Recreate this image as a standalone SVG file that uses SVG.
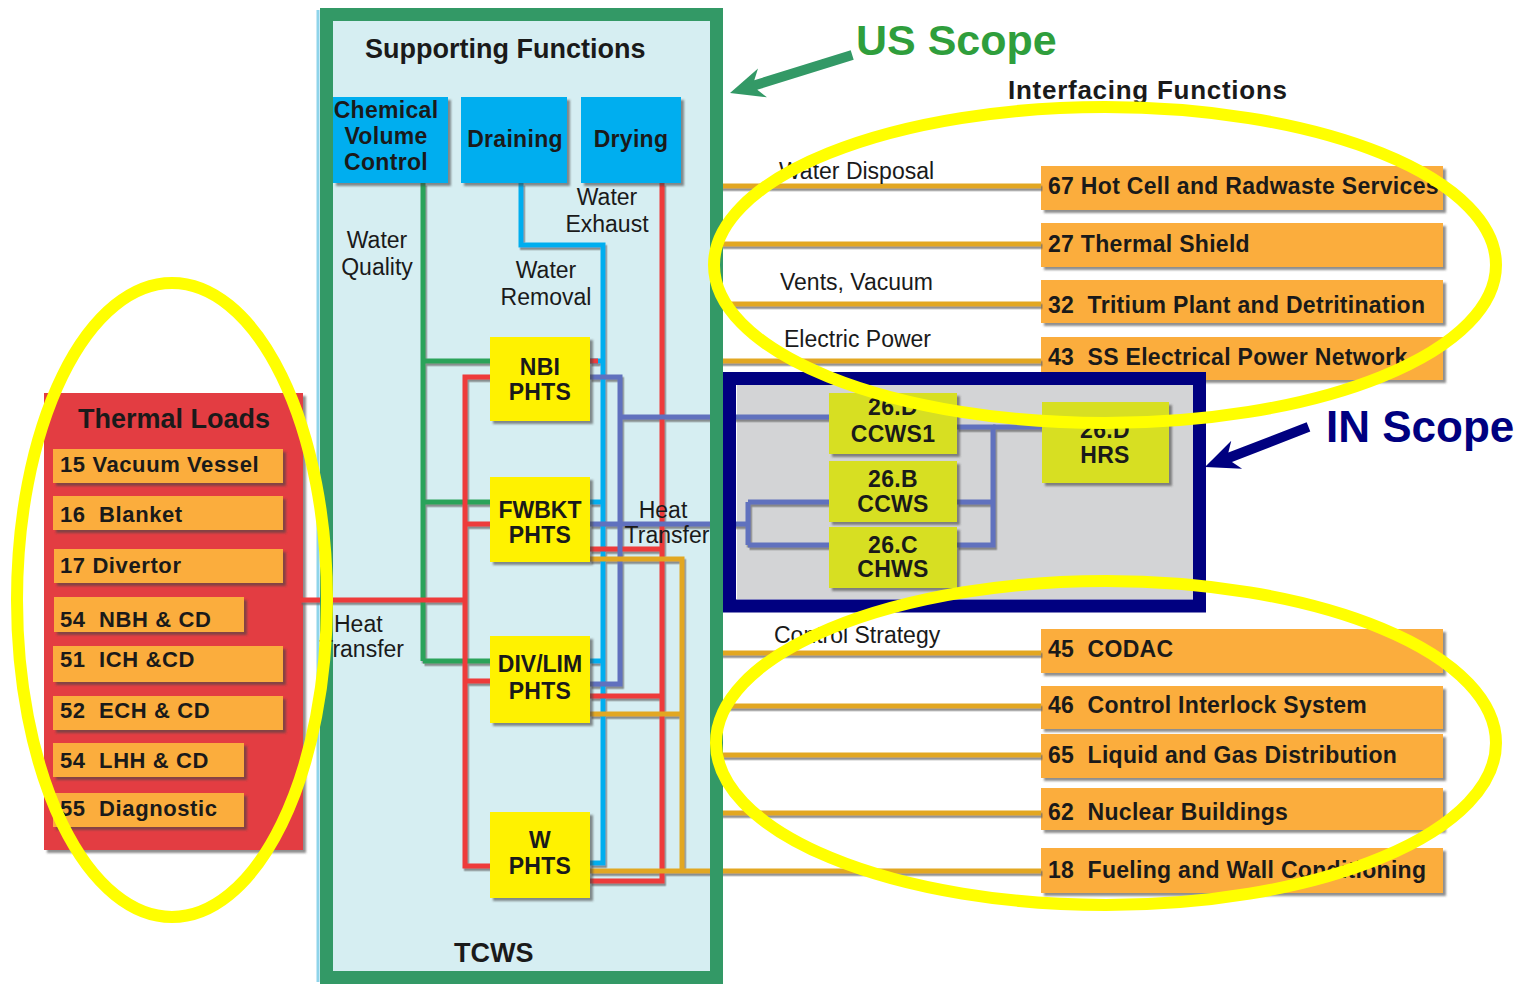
<svg xmlns="http://www.w3.org/2000/svg" width="1524" height="984" viewBox="0 0 1524 984">
<style>
text{font-family:"Liberation Sans",Arial,sans-serif;fill:#1a1a1a;white-space:pre}
.b{font-weight:bold}
.t22{font-size:22px;letter-spacing:0.6px}
.t23{font-size:23px;letter-spacing:0.3px}
.lbl{font-size:23px}
.c{text-anchor:middle}
.or{fill:#fbad3d}
.ye{fill:#fff200}
.bl{fill:#00aeef}
.yg{fill:#d7df23}
.ln{fill:none;stroke-width:5;stroke-linejoin:miter;stroke-linecap:butt}
.ell{fill:none;stroke:#ffff00;stroke-width:12}
</style>
<defs>
<filter id="bs" x="-10%" y="-10%" width="130%" height="140%">
<feDropShadow dx="3" dy="3" stdDeviation="0.8" flood-color="#444" flood-opacity="0.6"/>
</filter>
<filter id="ls" x="-5%" y="-5%" width="110%" height="110%">
<feDropShadow dx="1.5" dy="2.5" stdDeviation="0.6" flood-color="#666" flood-opacity="0.7"/>
</filter>
</defs>
<rect width="1524" height="984" fill="#ffffff"/>

<!-- Thermal loads -->
<g id="thermal-loads">
<rect x="44" y="393" width="259" height="457" fill="#e33e42" filter="url(#bs)"/>
<text class="b" x="78" y="428" font-size="27">Thermal Loads</text>
</g>
<g id="tl-15"><rect class="or" x="53" y="449" width="230" height="34" filter="url(#bs)"/><text class="b t22" x="60" y="472">15 Vacuum Vessel</text></g>
<g id="tl-16"><rect class="or" x="53" y="496" width="230" height="34" filter="url(#bs)"/><text class="b t22" x="60" y="522">16  Blanket</text></g>
<g id="tl-17"><rect class="or" x="54" y="549" width="229" height="34" filter="url(#bs)"/><text class="b t22" x="60" y="573">17 Divertor</text></g>
<g id="tl-54a"><rect class="or" x="54" y="597" width="190" height="35" filter="url(#bs)"/><text class="b t22" x="60" y="627">54  NBH &amp; CD</text></g>
<g id="tl-51"><rect class="or" x="53" y="646" width="230" height="36" filter="url(#bs)"/><text class="b t22" x="60" y="667">51  ICH &amp;CD</text></g>
<g id="tl-52"><rect class="or" x="53" y="696" width="230" height="34" filter="url(#bs)"/><text class="b t22" x="60" y="718">52  ECH &amp; CD</text></g>
<g id="tl-54b"><rect class="or" x="53" y="743" width="191" height="34" filter="url(#bs)"/><text class="b t22" x="60" y="768">54  LHH &amp; CD</text></g>
<g id="tl-55"><rect class="or" x="53" y="793" width="191" height="34" filter="url(#bs)"/><text class="b t22" x="60" y="816">55  Diagnostic</text></g>

<!-- Interfacing functions -->
<text class="b" x="1008" y="99" font-size="26" textLength="279">Interfacing Functions</text>
<g id="if-67"><rect class="or" x="1041" y="166" width="402" height="44" filter="url(#bs)"/><text class="b t23" x="1048" y="194">67 Hot Cell and Radwaste Services</text></g>
<g id="if-27"><rect class="or" x="1041" y="223" width="402" height="44" filter="url(#bs)"/><text class="b t23" x="1048" y="252">27 Thermal Shield</text></g>
<g id="if-32"><rect class="or" x="1041" y="280" width="402" height="43" filter="url(#bs)"/><text class="b t23" x="1048" y="313">32  Tritium Plant and Detritination</text></g>
<g id="if-43"><rect class="or" x="1041" y="337" width="402" height="43" filter="url(#bs)"/><text class="b t23" x="1048" y="365">43  SS Electrical Power Network</text></g>
<g id="if-45"><rect class="or" x="1041" y="629" width="402" height="44" filter="url(#bs)"/><text class="b t23" x="1048" y="657">45  CODAC</text></g>
<g id="if-46"><rect class="or" x="1041" y="686" width="402" height="43" filter="url(#bs)"/><text class="b t23" x="1048" y="713">46  Control Interlock System</text></g>
<g id="if-65"><rect class="or" x="1041" y="734" width="402" height="44" filter="url(#bs)"/><text class="b t23" x="1048" y="763">65  Liquid and Gas Distribution</text></g>
<g id="if-62"><rect class="or" x="1041" y="788" width="402" height="42" filter="url(#bs)"/><text class="b t23" x="1048" y="820">62  Nuclear Buildings</text></g>
<g id="if-18"><rect class="or" x="1041" y="848" width="402" height="45" filter="url(#bs)"/><text class="b t23" x="1048" y="878">18  Fueling and Wall Conditioning</text></g>

<!-- container backgrounds -->
<line x1="318" y1="10" x2="318" y2="982" stroke="#8fd4ea" stroke-width="3"/>
<rect id="tcws-bg" x="333" y="21" width="377" height="954" fill="#d6eef2"/>
<rect id="scope-bg" x="737" y="385" width="456" height="214" fill="#d3d4d6"/>

<!-- connectors -->
<g id="connectors" filter="url(#ls)">
<path class="ln" stroke="#2aa35a" d="M423,183 V661 M423,361 H490 M423,502 H490 M423,661 H490"/>
<path class="ln" stroke="#00aeef" d="M521,183 V245 H603 V863 H590 M590,361 H603 M590,502 H603 M590,661 H603"/>
<path class="ln" stroke="#ee3b3b" d="M490,377 H465 V866 H490 M465,524 H490 M465,681 H490 M300,600 H465 M662,183 V881 H590 M590,549 H662 M590,696 H662 M590,361 H598"/>
<path class="ln" stroke="#6171be" d="M590,377 H620 V684 H590 M620,417 H829 M590,524 H748 M748,502 V545 M748,502 H829 M748,545 H829 M957,427 H993 V545 H957 M957,502 H993"/>
<path class="ln" stroke="#6171be" stroke-width="2.5" d="M993,427 H1042"/>
<path class="ln" stroke="#e2a722" d="M590,559 H682 V871 M590,714 H682 M590,871 H1041 M716,186 H1041 M716,244 H1041 M716,304 H1041 M716,361 H1041 M716,653 H1041 M716,706 H1041 M716,755 H1041 M716,813 H1041"/>
</g>

<!-- container frames -->
<g id="tcws">
<rect x="326.5" y="14.5" width="390" height="963" fill="none" stroke="#339966" stroke-width="13"/>
<text class="b" x="365" y="58" font-size="27">Supporting Functions</text>
<text class="b" x="454" y="962" font-size="27">TCWS</text>
</g>
<g id="in-scope-box">
<rect x="729.5" y="378.5" width="470" height="227.5" fill="none" stroke="#000080" stroke-width="13"/>
</g>

<!-- supporting function nodes -->
<g id="cvc"><rect class="bl" x="333" y="97" width="115" height="86" filter="url(#bs)"/>
<text class="b t23 c" x="386" y="118">Chemical</text><text class="b t23 c" x="386" y="144">Volume</text><text class="b t23 c" x="386" y="170">Control</text></g>
<g id="draining"><rect class="bl" x="461" y="97" width="106" height="86" filter="url(#bs)"/><text class="b t23 c" x="515" y="147">Draining</text></g>
<g id="drying"><rect class="bl" x="581" y="97" width="100" height="86" filter="url(#bs)"/><text class="b t23 c" x="631" y="147">Drying</text></g>

<g id="nbi-phts"><rect class="ye" x="490" y="337" width="100" height="84" filter="url(#bs)"/><text class="b t23 c" x="540" y="375">NBI</text><text class="b t23 c" x="540" y="400">PHTS</text></g>
<g id="fwbkt-phts"><rect class="ye" x="490" y="477" width="100" height="85" filter="url(#bs)"/><text class="b c" font-size="23" x="540" y="518">FWBKT</text><text class="b t23 c" x="540" y="543">PHTS</text></g>
<g id="divlim-phts"><rect class="ye" x="490" y="636" width="100" height="87" filter="url(#bs)"/><text class="b c" font-size="23" x="540" y="672">DIV/LIM</text><text class="b t23 c" x="540" y="699">PHTS</text></g>
<g id="w-phts"><rect class="ye" x="490" y="812" width="100" height="86" filter="url(#bs)"/><text class="b t23 c" x="540" y="848">W</text><text class="b t23 c" x="540" y="874">PHTS</text></g>

<!-- in-scope nodes -->
<g id="ccws1"><rect class="yg" x="829" y="393" width="128" height="61" filter="url(#bs)"/><text class="b t23 c" x="893" y="415">26.D</text><text class="b t23 c" x="893" y="442">CCWS1</text></g>
<g id="ccws"><rect class="yg" x="829" y="461" width="128" height="61" filter="url(#bs)"/><text class="b t23 c" x="893" y="487">26.B</text><text class="b t23 c" x="893" y="512">CCWS</text></g>
<g id="chws"><rect class="yg" x="829" y="527" width="128" height="61" filter="url(#bs)"/><text class="b t23 c" x="893" y="553">26.C</text><text class="b t23 c" x="893" y="577">CHWS</text></g>
<g id="hrs"><rect class="yg" x="1042" y="402" width="127" height="81" filter="url(#bs)"/><text class="b t23 c" x="1105" y="438">26.D</text><text class="b t23 c" x="1105" y="463">HRS</text></g>

<!-- connector labels -->
<g id="labels">
<text class="lbl c" x="377" y="248">Water</text><text class="lbl c" x="377" y="275">Quality</text>
<text class="lbl c" x="546" y="278">Water</text><text class="lbl c" x="546" y="305">Removal</text>
<text class="lbl c" x="607" y="205">Water</text><text class="lbl c" x="607" y="232">Exhaust</text>
<text class="lbl" x="334" y="632">Heat</text><text class="lbl" x="404" y="657" text-anchor="end">Transfer</text>
<text class="lbl c" x="663" y="518">Heat</text><text class="lbl c" x="667" y="543">Transfer</text>
<text class="lbl" x="779" y="179">Water Disposal</text>
<text class="lbl" x="780" y="290">Vents, Vacuum</text>
<text class="lbl" x="784" y="347">Electric Power</text>
<text class="lbl" x="774" y="643">Control Strategy</text>
</g>

<!-- scope annotations -->
<g id="us-scope">
<polygon fill="#339966" transform="translate(730,93) rotate(-17.3)" points="0,0 34,-15 27,-5 128,-5 128,5 27,5 34,15"/>
<text class="b" x="856" y="55" font-size="43" style="fill:#2f9e3c">US Scope</text>
</g>
<g id="in-scope">
<polygon fill="#000080" transform="translate(1205,467) rotate(-21.2)" points="0,0 34,-15 27,-5 111,-5 111,5 27,5 34,15"/>
<text class="b" x="1326" y="442" font-size="44" style="fill:#000080">IN Scope</text>
</g>

<g id="highlights">
<ellipse class="ell" cx="172" cy="600" rx="155" ry="317"/>
<ellipse class="ell" cx="1105" cy="265" rx="391" ry="158"/>
<ellipse class="ell" cx="1106" cy="743" rx="390" ry="162"/>
</g>
</svg>
